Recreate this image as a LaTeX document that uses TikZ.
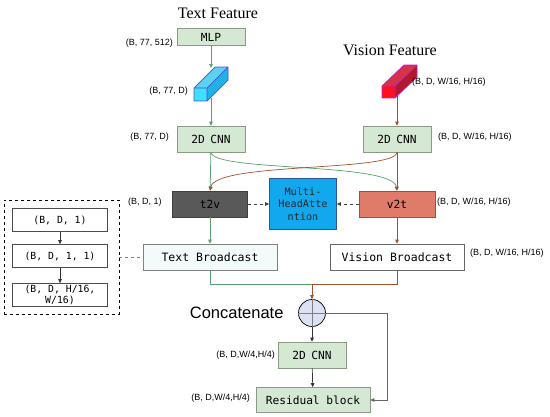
\documentclass[tikz,border=0pt]{standalone}
\usepackage{fontspec}
\setmainfont{Liberation Sans}
\setmonofont{DejaVu Sans Mono}
\newfontfamily\titlefont{Liberation Serif}
\usetikzlibrary{arrows.meta, positioning, calc}

\definecolor{cnnfill}{HTML}{D5E8D4}
\definecolor{cnnline}{HTML}{8A9A84}
\definecolor{tbfill}{HTML}{F3FAFA}
\definecolor{tvfill}{HTML}{595959}
\definecolor{vtfill}{HTML}{E07B6A}
\definecolor{mhafill}{HTML}{12A8EE}
\definecolor{mhaline}{HTML}{2F5597}
\definecolor{catfill}{HTML}{DCE1F4}
\definecolor{txtline}{HTML}{5C9E6E}
\definecolor{visline}{HTML}{A0522D}
\definecolor{tcubefront}{HTML}{3FE0FF}
\definecolor{tcubetopc}{HTML}{5AD2F2}
\definecolor{tcubeside}{HTML}{1FB2E6}
\definecolor{tcubeedge}{HTML}{4B4FD0}
\definecolor{vcubefront}{HTML}{FF1020}
\definecolor{vcubetopc}{HTML}{D43445}
\definecolor{vcubeside}{HTML}{B01A2A}
\definecolor{vcubeedge}{HTML}{C21FC8}

\begin{document}
\begin{tikzpicture}[x=1pt, y=-1pt,
  block/.style={rectangle, draw=cnnline, fill=cnnfill, line width=0.7pt, minimum width=68, minimum height=26, inner sep=1pt, font=\ttfamily\fontsize{11.2}{12}\selectfont},
  bcast/.style={rectangle, draw=gray, fill=white, line width=0.7pt, minimum width=134, minimum height=26, font=\ttfamily\fontsize{11.5}{12}\selectfont},
  shapebox/.style={rectangle, draw=black!70, fill=white, line width=0.7pt, minimum width=95, minimum height=23, inner sep=1pt, align=center, font=\ttfamily\fontsize{9.8}{11}\selectfont},
  dim/.style={font=\fontsize{9}{10}\selectfont, inner sep=0pt},
  title/.style={font=\titlefont\fontsize{16}{18}\selectfont},
  arrow/.style={line width=0.7pt, -{Triangle[length=4pt, width=3.6pt]}}]

\useasboundingbox (0,0) rectangle (550,416);

% titles
\node[title] (ttitle) at (218,13) {Text Feature};
\node[title] (vtitle) at (390,50) {Vision Feature};

% text branch
\node[block, minimum height=17] (mlp) at (211,37) {MLP};
\node[block] (tcnn) at (211,139) {2D\enspace CNN};
\node[block, fill=tvfill, draw=black!75, minimum width=75] (t2v) at (210,204) {t2v};
\node[bcast, fill=tbfill] (tb) at (210,257) {Text Broadcast};

% vision branch
\node[block] (vcnn) at (397,139) {2D\enspace CNN};
\node[block, fill=vtfill, draw=black!60, minimum width=76] (v2t) at (397,204) {v2t};
\node[bcast, draw=black!60] (vb) at (397,257) {Vision Broadcast};

% attention
\node[rectangle, draw=mhaline, fill=mhafill, line width=0.8pt, minimum width=67, minimum height=51, align=center, font=\ttfamily\fontsize{10.2}{12.5}\selectfont, text=black!85] (mha) at (303,204) {Multi-\\HeadAtte\\ntion};

% fusion
\node[circle, draw=black, fill=catfill, line width=0.7pt, minimum size=27, inner sep=0pt] (cat) at (312,313) {};
\draw[gray, line width=0.6pt] (cat.north) -- (cat.south) (cat.west) -- (cat.east);
\node[font=\fontsize{16.5}{18}\selectfont, anchor=east] (catlabel) at (287,313) {Concatenate};
\node[block] (fcnn) at (312,355) {2D\enspace CNN};
\node[block, minimum width=114, minimum height=25] (res) at (313,400) {Residual block};

% broadcast detail
\node[rectangle, draw, dashed, line width=0.9pt, minimum width=115, minimum height=114] (detail) at (61.5,257) {};
\node[shapebox] (s1) at (60,220) {(B, D, 1)};
\node[shapebox] (s2) at (60,256) {(B, D, 1, 1)};
\node[shapebox] (s3) at (60,295) {(B, D, H/16,\\W/16)};

% text cuboid
\fill[tcubetopc] (194,88) -- (207,88) -- (228,67) -- (215,67) -- cycle;
\fill[tcubeside] (207,88) -- (207,101) -- (228,80) -- (228,67) -- cycle;
\fill[tcubefront] (194,88) rectangle (207,101);
\draw[tcubeedge, line width=0.7pt] (194,88) -- (194,101) -- (207,101) -- (228,80) -- (228,67) -- (215,67) -- cycle (194,88) -- (207,88) -- (228,67) (207,88) -- (207,101);
\coordinate (tcubetop) at (211,68);
\coordinate (tcubebot) at (211,98);

% vision cuboid
\fill[vcubetopc] (382,86) -- (395,86) -- (417,65) -- (404,65) -- cycle;
\fill[vcubeside] (395,86) -- (395,98) -- (417,77) -- (417,65) -- cycle;
\fill[vcubefront] (382,86) rectangle (395,98);
\draw[vcubeedge, line width=0.7pt] (382,86) -- (382,98) -- (395,98) -- (417,77) -- (417,65) -- (404,65) -- cycle (382,86) -- (395,86) -- (417,65) (395,86) -- (395,98);
\coordinate (vcubebot) at (397,96);

% dimensions
\node[dim, anchor=east] (dmlp) at (173,43) {(B, 77, 512)};
\node[dim, anchor=east] (dtcube) at (188,91) {(B, 77, D)};
\node[dim, anchor=east] (dtcnn) at (169,137) {(B, 77, D)};
\node[dim, anchor=west] (dt2v) at (128,202) {(B, D, 1)};
\node[dim, anchor=west] (dvcube) at (412,82) {(B, D, W/16, H/16)};
\node[dim, anchor=west] (dvcnn) at (438,137) {(B, D, W/16, H/16)};
\node[dim, anchor=west] (dv2t) at (437,202) {(B, D, W/16, H/16)};
\node[dim, anchor=west] (dvb) at (470,253) {(B, D, W/16, H/16)};
\node[dim, anchor=east] (dfcnn) at (275,355) {(B, D,W/4,H/4)};
\node[dim, anchor=east] (dres) at (250,398) {(B, D,W/4,H/4)};

% text connectors
\draw[arrow, txtline] (mlp) -- (tcubetop);
\draw[arrow, txtline] (tcubebot) -- (tcnn);
\draw[arrow, txtline] (tcnn) -- (t2v);
\draw[arrow, txtline] (t2v) -- (tb);
\draw[arrow, txtline] (tcnn.south) .. controls (213,172) and (392,162) .. (v2t.north);

% vision connectors
\draw[arrow, visline] (vcubebot) -- (vcnn);
\draw[arrow, visline] (vcnn) -- (v2t);
\draw[arrow, visline] (v2t) -- (vb);
\draw[arrow, visline] (vcnn.south) .. controls (395,172) and (216,162) .. (t2v.north);

% attention links
\draw[arrow, dashed, black!75] (t2v) -- (mha);
\draw[arrow, dashed, black!75] (v2t) -- (mha);
\draw[dashed, gray, line width=0.6pt] (detail.east |- tb.west) -- (tb.west);
\draw[arrow, black!80] (s1) -- (s2);
\draw[arrow, black!80] (s2) -- (s3);

% merge
\coordinate (merge) at (312,284);
\draw[txtline, line width=0.7pt] (tb.south) |- (merge);
\draw[visline, line width=0.7pt] (vb.south) |- (merge);
\draw[arrow, visline] (merge) -- (cat.north);
\draw[arrow, black!80] (cat) -- (fcnn);
\draw[arrow, black!80] (fcnn) -- (res);
\coordinate (skip) at (387,313);
\draw[arrow, black!60] (cat.east) -- (skip) |- (res.east);

\end{tikzpicture}
\end{document}
